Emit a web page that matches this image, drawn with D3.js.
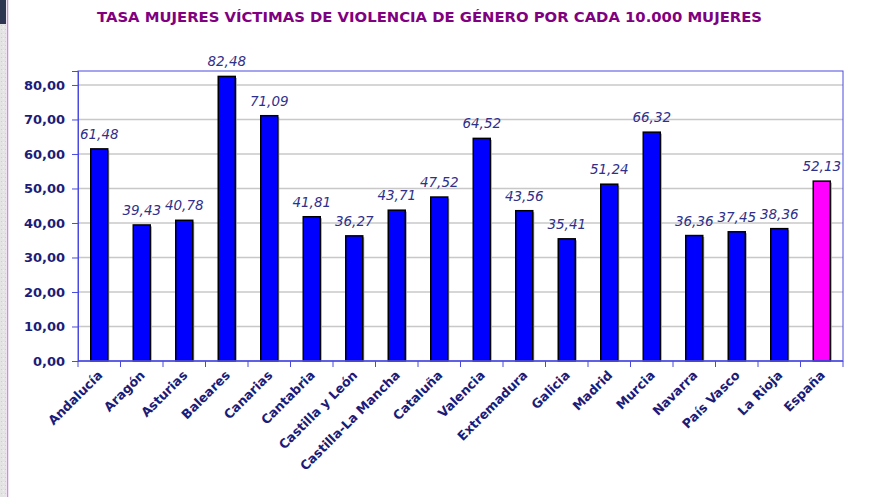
<!DOCTYPE html>
<html>
<head>
<meta charset="utf-8">
<script src="https://cdn.jsdelivr.net/npm/d3@7"></script>
<style>
  html, body { margin: 0; padding: 0; background: #fff; }
  svg { display: block; }
</style>
</head>
<body>
<script>
const categories = ["Andalucía","Aragón","Asturias","Baleares","Canarias","Cantabria","Castilla y León","Castilla-La Mancha","Cataluña","Valencia","Extremadura","Galicia","Madrid","Murcia","Navarra","País Vasco","La Rioja","España"];
const values = [61.48,39.43,40.78,82.48,71.09,41.81,36.27,43.71,47.52,64.52,43.56,35.41,51.24,66.32,36.36,37.45,38.36,52.13];
const highlight = ["España"];
const yTicks = [0,10,20,30,40,50,60,70,80];
const title = "TASA MUJERES VÍCTIMAS DE VIOLENCIA DE GÉNERO POR CADA 10.000 MUJERES";

const W = 873, H = 497;
const m = {left: 78, right: 843, top: 71, bottom: 361};
const fmt = v => d3.format(".2f")(v).replace(".", ",");
const FONT = "Verdana, DejaVu Sans, sans-serif";

const svg = d3.select("body").append("svg").attr("width", W).attr("height", H);

// decorative left strip
const pat = svg.append("defs").append("pattern").attr("id","tex").attr("width",4).attr("height",4).attr("patternUnits","userSpaceOnUse");
pat.append("rect").attr("width",4).attr("height",4).attr("fill","#e4e4e4");
pat.append("rect").attr("x",1).attr("y",1).attr("width",1).attr("height",1).attr("fill","#cfcfcf");
pat.append("rect").attr("x",3).attr("y",2).attr("width",1).attr("height",1).attr("fill","#f2f2f2");
svg.append("rect").attr("x",0).attr("y",0).attr("width",6).attr("height",H).attr("fill","url(#tex)");
svg.append("rect").attr("x",0).attr("y",0).attr("width",6).attr("height",24).attr("fill","#2e3550");
svg.append("line").attr("x1",7.5).attr("x2",7.5).attr("y1",0).attr("y2",H).attr("stroke","#c890d0").attr("stroke-width",1.5);

const x = d3.scaleBand().domain(categories).range([m.left, m.right]).paddingInner(0.6).paddingOuter(0.3);
const y = d3.scaleLinear().domain([0, 84.05]).range([m.bottom, m.top]);

// title
svg.append("text").attr("x", 97).attr("y", 22)
  .attr("font-family", FONT).attr("font-weight","bold").attr("font-size",13.5)
  .attr("textLength", 665).attr("lengthAdjust","spacingAndGlyphs")
  .attr("fill","#800080").text(title);

// gridlines
svg.append("g").selectAll("line").data(yTicks.filter(t => t > 0)).join("line")
  .attr("x1", m.left).attr("x2", m.right).attr("y1", d => y(d)).attr("y2", d => y(d))
  .attr("stroke","#c8c8c8").attr("stroke-width",1.5);

// bars: shadow + bar
const bw = x.bandwidth();
svg.append("g").selectAll("rect").data(categories).join("rect")
  .attr("x", d => x(d) + 1.5).attr("y", (d,i) => y(values[i]) + 1.5)
  .attr("width", bw).attr("height", (d,i) => y(0) - y(values[i]) - 1.5)
  .attr("fill","#9a9a9a");
svg.append("g").selectAll("rect").data(categories).join("rect")
  .attr("x", d => x(d)).attr("y", (d,i) => y(values[i]))
  .attr("width", bw).attr("height", (d,i) => y(0) - y(values[i]))
  .attr("fill", d => highlight.includes(d) ? "#ff00ff" : "#0000ff")
  .attr("stroke","#000").attr("stroke-width",1.5);

// value labels
svg.append("g").selectAll("text").data(categories).join("text")
  .attr("x", d => x(d) + bw/2).attr("y", (d,i) => y(values[i]) - 10)
  .attr("text-anchor","middle")
  .attr("font-family", FONT).attr("font-style","italic").attr("font-size",13.5)
  .attr("fill","#30308a").text((d,i) => fmt(values[i]));

// plot border
svg.append("rect").attr("x", m.left).attr("y", m.top).attr("width", m.right - m.left).attr("height", m.bottom - m.top)
  .attr("fill","none").attr("stroke","#4a4ae0").attr("stroke-width",1);

// y axis
const yAxis = svg.append("g").attr("transform", `translate(${m.left},0)`)
  .call(d3.axisLeft(y).tickValues(yTicks).tickFormat(fmt).tickSize(6).tickPadding(7));
yAxis.select(".domain").attr("stroke","#4a4ae0");
yAxis.selectAll(".tick line").attr("stroke","#4a4ae0");
yAxis.selectAll(".tick text").attr("font-family", FONT).attr("font-weight","bold")
  .attr("font-size",13).attr("fill","#1c1c78");

// x axis (ticks between categories)
const xg = svg.append("g").attr("transform", `translate(0,${m.bottom})`);
xg.append("line").attr("x1", m.left).attr("x2", m.right).attr("stroke","#4a4ae0").attr("stroke-width",1.5);
const bounds = d3.range(categories.length + 1).map(i => m.left + i * (m.right - m.left) / categories.length);
xg.selectAll("line.tk").data(bounds).join("line").attr("class","tk")
  .attr("x1", d => d).attr("x2", d => d).attr("y1", 0).attr("y2", 6).attr("stroke","#4a4ae0");
xg.selectAll("text").data(categories).join("text")
  .attr("transform", d => `translate(${x(d) + bw/2 + 4},${15}) rotate(-45)`)
  .attr("text-anchor","end")
  .attr("font-family", FONT).attr("font-weight","bold").attr("font-size",12.7)
  .attr("fill","#1c1c78").text(d => d);
</script>
</body>
</html>
